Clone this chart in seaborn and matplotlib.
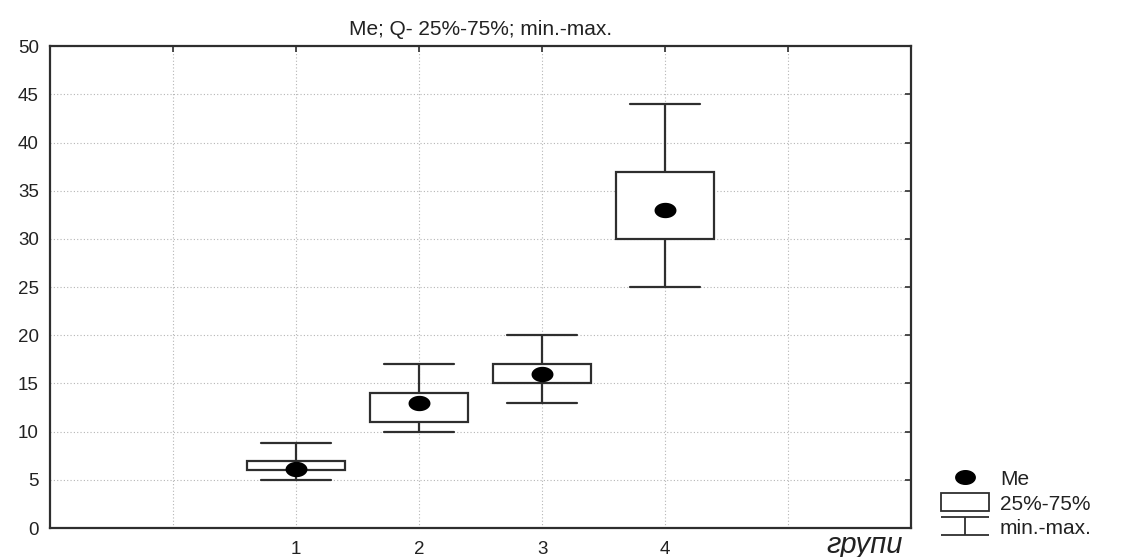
import numpy as np
import pandas as pd
import matplotlib
matplotlib.use('Agg')
import matplotlib.pyplot as plt
import seaborn as sns
from matplotlib.lines import Line2D
from matplotlib.patches import Patch
from matplotlib.path import Path

##### данные
groups = [1, 2, 3, 4]
mins = [5, 10, 13, 25]
q25 = [6, 11, 15, 30]
medians = [6.1, 13, 16, 33]
q75 = [7, 14, 17, 37]
maxs = [8.8, 17, 20, 44]
tick_labels = ['', '1', '2', '3', '4', '']

##### 5 точек на группу -> квартили совпадают с заданными
rows = []
for g, a, b, c, d, e in zip(groups, mins, q25, medians, q75, maxs):
    for v in (a, b, c, d, e):
        rows.append({'group': g, 'value': v})
df = pd.DataFrame(rows)

sns.set_style('white')
plt.rcParams['font.family'] = ['Liberation Sans', 'DejaVu Sans']

line_c = '#2e2e2e'
txt_c = '#222222'
fig = plt.figure(figsize=(11.27, 5.57), dpi=100)
ax = fig.add_axes([0.0444, 0.052, 0.764, 0.865])

##### точка медианы чуть сплюснута, как в оригинале
t = np.linspace(0, 2 * np.pi, 40)
dot = Path(np.column_stack([np.cos(t), 0.7 * np.sin(t)]), closed=True)

sns.boxplot(data=df, x='group', y='value', native_scale=True, whis=(0, 100),
            width=0.8, color='white', linecolor=line_c, linewidth=1.6,
            showfliers=False, medianprops={'visible': False},
            capwidths=0.57, saturation=1, ax=ax, zorder=3)
sns.scatterplot(x=groups, y=medians, color='black', s=250, marker=dot,
                zorder=5, edgecolor='black', linewidth=0, ax=ax)

ax.set_xlim(-1, 6)
ax.set_ylim(0, 50)
ax.set_xticks(range(0, 6))
ax.set_xticklabels(tick_labels)
ax.set_yticks(range(0, 51, 5))
ax.tick_params(axis='both', direction='in', length=4, width=1.2, color=line_c,
               labelsize=13.5, top=True, right=True, labelcolor=txt_c)
ax.tick_params(axis='x', pad=9)
ax.tick_params(axis='y', pad=8)
ax.grid(True, color='#b5b5b5', linestyle=(0, (1, 2)), linewidth=0.8)
ax.set_axisbelow(True)
for sp in ax.spines.values():
    sp.set_visible(True)
    sp.set_color(line_c)
    sp.set_linewidth(1.6)

ax.set_title('Me; Q- 25%-75%; min.-max.', fontsize=15, color=txt_c, pad=8)
ax.set_ylabel('')
ax.set_xlabel('')
ax.text(0.991, -0.052, 'групи', transform=ax.transAxes, ha='right',
        va='baseline', fontsize=21, style='italic', color=txt_c)

##### легенда
cap_path = Path([(-1, 0.4), (1, 0.4), (0, 0.4), (0, -0.4), (-1, -0.4), (1, -0.4)],
                [Path.MOVETO, Path.LINETO, Path.MOVETO, Path.LINETO,
                 Path.MOVETO, Path.LINETO])
handles = [
    Line2D([], [], marker=dot, ls='none', color='black', markersize=14),
    Patch(facecolor='white', edgecolor=line_c, linewidth=1.3),
    Line2D([], [], marker=cap_path, ls='none', color=line_c, markersize=34,
           markerfacecolor='none', markeredgewidth=1.3),
]
fig.legend(handles, ['Me', '25%-75%', 'min.-max.'], loc='lower left',
           bbox_to_anchor=(0.818, 0.0), frameon=False, fontsize=15,
           handlelength=2.3, handleheight=0.95, handletextpad=0.55,
           labelspacing=0.22, labelcolor=txt_c)

fig.savefig('out.png', dpi=100)
